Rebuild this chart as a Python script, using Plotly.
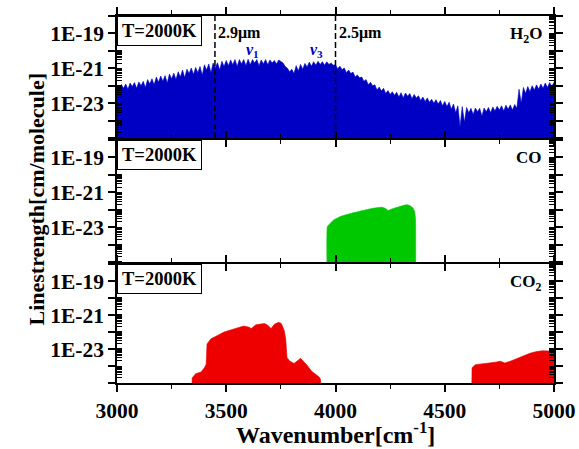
import plotly.graph_objects as go

# ---- data -------------------------------------------------------------
# H2O line strengths (log10 of cm/molecule) on a 10 cm^-1 grid, 3000-5000 cm^-1
H2O_WN = list(range(3000, 5001, 10))
H2O_LOG = [
    -21.95, -22.25, -21.93, -22.15, -21.90, -22.20, -21.85, -22.05, -21.82, -22.15,
    -21.78, -22.00, -21.75, -22.10, -21.65, -21.90, -21.60, -21.95, -21.50, -21.80,
    -21.45, -21.75, -21.42, -21.85, -21.33, -21.60, -21.28, -21.65, -21.20, -21.50,
    -21.10, -21.55, -21.05, -21.30, -20.98, -21.35, -20.95, -21.25, -20.90, -21.40,
    -20.80, -21.10, -20.75, -21.25, -20.70, -20.95, -20.68, -21.10, -20.60, -20.90,
    -20.55, -20.85, -20.52, -20.80, -20.50, -20.90, -20.50, -20.75, -20.50, -20.85,
    -20.48, -20.80, -20.50, -20.70, -20.50, -20.85, -20.52, -20.75, -20.50, -20.80,
    -20.52, -20.70, -20.55, -20.75, -20.52, -20.60, -20.70, -20.90, -21.00, -21.20,
    -21.05, -21.30, -20.85, -21.15, -20.78, -21.05, -20.72, -20.92, -20.65, -20.88,
    -20.62, -20.82, -20.60, -20.78, -20.62, -20.82, -20.63, -20.78, -20.70, -20.82,
    -20.80, -21.02, -20.88, -21.08, -20.98, -21.25, -21.10, -21.30, -21.22, -21.50,
    -21.38, -21.55, -21.50, -21.75, -21.65, -21.95, -21.80, -22.00, -21.95, -22.25,
    -22.08, -22.30, -22.15, -22.45, -22.28, -22.50, -22.35, -22.55, -22.38, -22.65,
    -22.40, -22.70, -22.42, -22.60, -22.45, -22.75, -22.50, -22.70, -22.58, -22.85,
    -22.65, -22.90, -22.70, -22.95, -22.78, -23.00, -22.80, -23.05, -22.85, -23.15,
    -22.90, -23.20, -22.95, -23.35, -23.05, -23.55, -23.15, -24.35, -23.20, -24.10,
    -23.25, -23.55, -23.30, -23.65, -23.28, -23.50, -23.30, -23.75, -23.28, -23.50,
    -23.25, -23.55, -23.22, -23.45, -23.18, -23.40, -23.15, -23.45, -23.12, -23.35,
    -23.10, -23.40, -23.08, -23.30, -22.20, -23.00, -22.10, -22.45, -22.05, -22.35,
    -22.00, -22.25, -21.95, -22.20, -21.90, -22.15, -21.85, -22.10, -21.82, -22.05,
    -21.80,
]

# CO band outline (log10 of cm/molecule)
CO_WN = [3962, 3963, 3975, 3990, 4020, 4060, 4100, 4140, 4180, 4215, 4232,
         4240, 4260, 4290, 4310, 4325, 4340, 4355, 4362, 4366, 4367]
CO_LOG = [-26.0, -22.95, -22.80, -22.60, -22.40, -22.25, -22.12, -22.00, -21.90,
          -21.86, -21.95, -22.05, -21.95, -21.83, -21.76, -21.72, -21.76, -21.90,
          -22.10, -22.50, -26.0]

# CO2 bands outline (log10 of cm/molecule)
CO2_WN_A = [3342, 3344, 3360, 3385, 3400, 3408, 3412, 3430, 3460, 3490, 3520,
            3550, 3580, 3605, 3615, 3635, 3660, 3675, 3690, 3705, 3720, 3740,
            3752, 3765, 3772, 3778, 3790, 3810, 3825, 3840, 3855, 3870, 3890,
            3910, 3925, 3932, 3933]
CO2_LOG_A = [-26.0, -24.70, -24.45, -24.35, -24.10, -23.90, -22.70, -22.40,
             -22.20, -22.00, -21.88, -21.76, -21.65, -21.72, -21.80, -21.58,
             -21.52, -21.50, -21.60, -21.80, -21.55, -21.43, -21.50, -21.90,
             -22.40, -23.50, -23.70, -23.85, -23.70, -23.55, -23.75, -23.95,
             -24.30, -24.50, -24.65, -24.80, -26.0]
CO2_WN_B = [4623, 4625, 4640, 4670, 4700, 4730, 4755, 4775, 4800, 4830, 4860,
            4890, 4920, 4950, 4975, 5000]
CO2_LOG_B = [-26.0, -24.10, -23.92, -23.88, -23.83, -23.78, -23.72, -23.82,
             -23.72, -23.55, -23.40, -23.25, -23.15, -23.10, -23.12, -23.15]

X_TICKS = [3000, 3500, 4000, 4500, 5000]
Y_TICKS = [1e-25, 1e-24, 1e-23, 1e-22, 1e-21, 1e-20, 1e-19, 1e-18]
Y_LABELS = ["", "", "1E-23", "", "1E-21", "", "1E-19", ""]
WAVELENGTH_MARKS = [2.9, 2.5]          # micrometres
TEMPERATURE = "T=2000K"

BLUE, GREEN, RED = "#0000c4", "#00c800", "#ee0000"
FONT = "Liberation Serif"


def lin(vals):
    return [10 ** v for v in vals]


fig = go.Figure()
fig.add_trace(go.Scatter(x=H2O_WN, y=lin(H2O_LOG), mode="lines", fill="tozeroy",
                         line=dict(color=BLUE, width=0.6), fillcolor=BLUE,
                         xaxis="x", yaxis="y", showlegend=False))
fig.add_trace(go.Scatter(x=CO_WN, y=lin(CO_LOG), mode="lines", fill="tozeroy",
                         line=dict(color=GREEN, width=0.6, shape="spline", smoothing=0.4),
                         fillcolor=GREEN, xaxis="x2", yaxis="y2", showlegend=False))
for wn, lg in ((CO2_WN_A, CO2_LOG_A), (CO2_WN_B, CO2_LOG_B)):
    fig.add_trace(go.Scatter(x=wn, y=lin(lg), mode="lines", fill="tozeroy",
                             line=dict(color=RED, width=0.6), fillcolor=RED,
                             xaxis="x3", yaxis="y3", showlegend=False))

axis_common = dict(showline=True, linecolor="black", linewidth=1.5, mirror="ticks",
                   showgrid=False, zeroline=False, ticks="outside", tickcolor="black",
                   automargin=False)
tickfont = dict(family=FONT, size=21.5, color="black", weight="bold")

xaxis = dict(axis_common, range=[3000, 5000], tickvals=X_TICKS, ticklen=7, tickwidth=1.5,
             minor=dict(dtick=250, ticks="outside", ticklen=4, tickcolor="black", tickwidth=1.2),
             tickfont=tickfont)
yaxis = dict(axis_common, type="log", range=[-25, -18], tickvals=Y_TICKS, ticktext=Y_LABELS,
             ticklen=7, tickwidth=1.5, tickfont=tickfont,
             minor=dict(dtick="D1", ticks="inside", ticklen=5, tickcolor="black", tickwidth=1))

# plot area: 116.5..553.7 px wide, 16..383 px tall
PLOT_TOP, PLOT_BOTTOM = 16, 383
domains = [[0.6676, 1.0], [0.3297, 0.6621], [0.0, 0.3243]]
layout = dict(width=579, height=449, template="none",
              margin=dict(l=116.5, r=25.3, t=PLOT_TOP, b=449 - PLOT_BOTTOM, autoexpand=False),
              paper_bgcolor="white", plot_bgcolor="white")
for i, dom in enumerate(domains, start=1):
    sfx = "" if i == 1 else str(i)
    layout["xaxis" + sfx] = dict(xaxis, anchor="y" + sfx, showticklabels=(i == 3))
    layout["yaxis" + sfx] = dict(yaxis, anchor="x" + sfx, domain=dom)
fig.update_layout(**layout)


def py(pixel_y):
    """Paper fraction for a pixel row inside the plot area."""
    return (PLOT_BOTTOM - pixel_y) / (PLOT_BOTTOM - PLOT_TOP)


# vertical wavelength markers in the H2O panel
for um in WAVELENGTH_MARKS:
    wn = 1e4 / um
    fig.add_shape(type="line", xref="x", yref="y domain", x0=wn, x1=wn, y0=0, y1=1,
                  line=dict(color="black", width=1.5, dash="6px,3px"))
    fig.add_annotation(x=wn, xref="x", y=py(33), yref="paper", xanchor="left",
                       yanchor="middle", text=f"{um}\u03bcm", showarrow=False, xshift=1,
                       font=dict(family=FONT, size=16, color="black", weight="bold"))

# band labels
for txt, xwn in (("<i>v</i><sub>1</sub>", 3620), ("<i>v</i><sub>3</sub>", 3915)):
    fig.add_annotation(x=xwn, xref="x", y=py(50), yref="paper", yanchor="middle",
                       text=txt, showarrow=False,
                       font=dict(family=FONT, size=16, color=BLUE, weight="bold"))

species = [("H<sub>2</sub>O", 35), ("CO", 157), ("CO<sub>2</sub>", 283)]
for i, (name, ypix) in enumerate(species, start=1):
    sfx = "" if i == 1 else str(i)
    fig.add_annotation(x=1, xref="paper", y=py(ypix), yref="paper", yanchor="middle",
                       xanchor="right", xshift=-10, text=name, showarrow=False,
                       font=dict(family=FONT, size=17, color="black", weight="bold"))
    fig.add_annotation(x=0, xref="x%s domain" % sfx, y=1, yref="y%s domain" % sfx,
                       xanchor="left", yanchor="top", text=TEMPERATURE, showarrow=False,
                       bordercolor="black", borderwidth=1, borderpad=4, bgcolor="white",
                       font=dict(family=FONT, size=18.5, color="black", weight="bold"))

# axis titles
fig.add_annotation(x=0, xref="paper", y=0.5, yref="paper", xshift=-95.5, textangle=-90,
                   text="Linestrength[cm/molecule]", showarrow=False,
                   font=dict(family=FONT, size=22, color="black", weight="bold"))
fig.add_annotation(x=0.5, xref="paper", y=0, yref="paper", yshift=-50, yanchor="middle",
                   text="Wavenumber[cm<sup>-1</sup>]", showarrow=False,
                   font=dict(family=FONT, size=24, color="black", weight="bold"))

fig.write_html("out.html")
